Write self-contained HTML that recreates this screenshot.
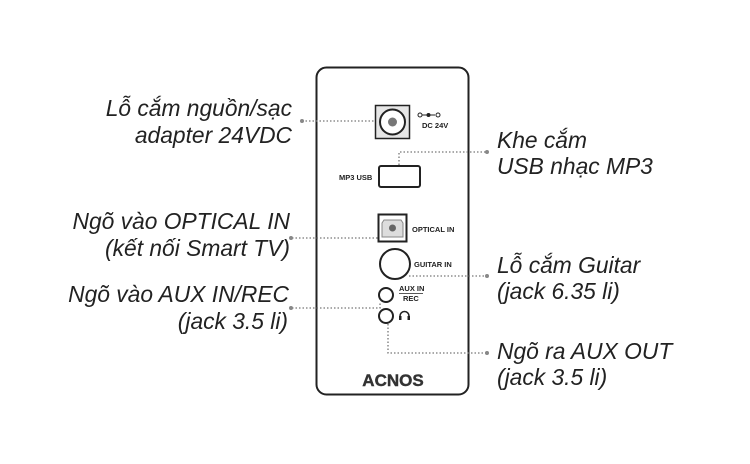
<!DOCTYPE html>
<html><head><meta charset="utf-8"><style>
html,body{margin:0;padding:0;background:#fff;width:750px;height:464px;overflow:hidden}
svg{display:block}
.l{font-family:"Liberation Sans",Arial,sans-serif;font-style:italic;font-size:22.8px;fill:#222}
.s{font-family:"Liberation Sans",Arial,sans-serif;font-weight:bold;font-size:7.5px;fill:#222}
.d{stroke:#777;stroke-width:1.3;stroke-dasharray:1.5 2;fill:none}
</style></head><body>
<svg width="750" height="464" viewBox="0 0 750 464">
<rect x="316.5" y="67.5" width="152" height="327" rx="10" fill="#fff" stroke="#222" stroke-width="2"/>
<rect x="375.5" y="105.5" width="34" height="33" fill="#e6e6e6" stroke="#222" stroke-width="1.5"/>
<circle cx="392.5" cy="122" r="12.5" fill="#fff" stroke="#222" stroke-width="2"/>
<circle cx="392.5" cy="122" r="4.5" fill="#777"/>
<g stroke="#222" stroke-width="1" fill="none">
<circle cx="420" cy="115" r="2"/><line x1="422" y1="115" x2="427" y2="115"/>
<line x1="430" y1="115" x2="435" y2="115"/><circle cx="438" cy="115" r="2"/>
</g>
<circle cx="428.5" cy="115" r="2" fill="#222"/>
<text class="s" x="422" y="128">DC 24V</text>
<rect x="379" y="166" width="41" height="21" rx="2" fill="#fff" stroke="#222" stroke-width="2"/>
<text class="s" x="339" y="180">MP3 USB</text>
<rect x="378.5" y="214.5" width="28" height="27" fill="#fff" stroke="#222" stroke-width="2"/>
<path d="M384 220 h17 l2 3 v14 h-21 v-14 z" fill="#ddd" stroke="#888" stroke-width="1"/>
<circle cx="392.5" cy="228" r="3.5" fill="#666"/>
<text class="s" x="412" y="232">OPTICAL IN</text>
<circle cx="395" cy="264" r="15" fill="#fff" stroke="#222" stroke-width="2"/>
<text class="s" x="414" y="267">GUITAR IN</text>
<circle cx="386" cy="295" r="7" fill="#fff" stroke="#222" stroke-width="2"/>
<circle cx="386" cy="316" r="7" fill="#fff" stroke="#222" stroke-width="2"/>
<text class="s" x="399" y="291">AUX IN</text>
<line x1="399" y1="293.5" x2="423" y2="293.5" stroke="#222" stroke-width="0.8"/>
<text class="s" x="403" y="301">REC</text>
<path d="M400 319 v-3 a4.5 4.5 0 0 1 9 0 v3" fill="none" stroke="#222" stroke-width="1.5"/>
<rect x="399" y="316" width="2.5" height="4" fill="#222"/><rect x="407.5" y="316" width="2.5" height="4" fill="#222"/>
<text x="393" y="386" text-anchor="middle" font-family="Liberation Sans,Arial,sans-serif" font-weight="bold" font-size="17" fill="#333" stroke="#333" stroke-width="0.4">ACNOS</text>
<path class="d" d="M302 121 H374"/>
<path class="d" d="M399 165 V152 H486"/>
<path class="d" d="M292 238 H378"/>
<path class="d" d="M409 276 H486"/>
<path class="d" d="M292 308 H380 V302"/>
<path class="d" d="M388 324 V353 H486"/>
<g fill="#888">
<circle cx="302" cy="121" r="2"/><circle cx="487" cy="152" r="2"/>
<circle cx="291" cy="238" r="2"/><circle cx="487" cy="276" r="2"/>
<circle cx="291" cy="308" r="2"/><circle cx="487" cy="353" r="2"/>
</g>
<g class="l" text-anchor="end">
<text x="292" y="116">Lỗ cắm nguồn/sạc</text>
<text x="292" y="143">adapter 24VDC</text>
<text x="290" y="229">Ngõ vào OPTICAL IN</text>
<text x="290" y="256">(kết nối Smart TV)</text>
<text x="289" y="302">Ngõ vào AUX IN/REC</text>
<text x="288" y="329">(jack 3.5 li)</text>
</g>
<g class="l">
<text x="497" y="148">Khe cắm</text>
<text x="497" y="174">USB nhạc MP3</text>
<text x="497" y="273">Lỗ cắm Guitar</text>
<text x="497" y="299">(jack 6.35 li)</text>
<text x="497" y="359">Ngõ ra AUX OUT</text>
<text x="497" y="385">(jack 3.5 li)</text>
</g>
</svg>
</body></html>
